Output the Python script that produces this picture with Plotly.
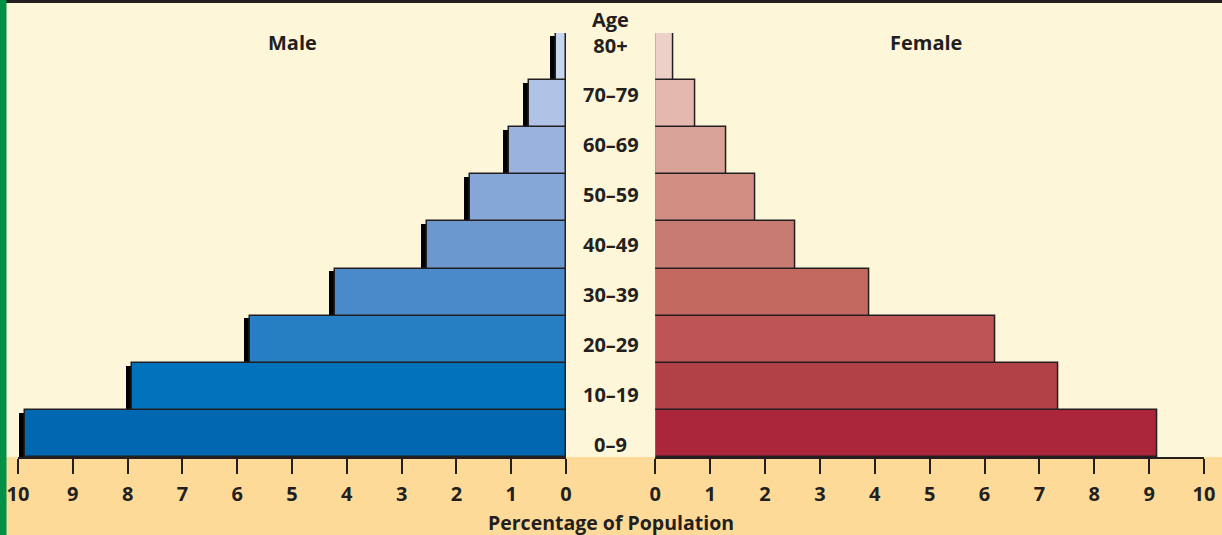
import plotly.graph_objects as go

age_groups = ["0–9", "10–19", "20–29", "30–39", "40–49", "50–59", "60–69", "70–79", "80+"]
male_pct = [9.87, 7.92, 5.77, 4.22, 2.53, 1.76, 1.04, 0.67, 0.18]
female_pct = [9.14, 7.34, 6.20, 3.90, 2.55, 1.82, 1.30, 0.73, 0.33]
x_ticks = [0, 1, 2, 3, 4, 5, 6, 7, 8, 9, 10]

male_colors = ["#0068B1", "#0073BC", "#267EC3", "#4B8AC8", "#6A98CF",
               "#84A7D8", "#99B3DE", "#AEC3E5", "#C7D6EF"]
female_colors = ["#AC263B", "#B24047", "#BC5553", "#C4695F", "#C87B73",
                 "#D28E83", "#D8A298", "#E4B8AE", "#EDD0C7"]

INK = "#231F20"
CREAM = "#FDF6D8"
ORANGE = "#FDDA97"
GREEN = "#009048"
FONT = "Open Sans"
FS = 20
SHADOW = 0.11

W, H = 1222, 535
def px(xp):
    return xp / W
def py(yp):
    return (H - yp) / H

pos = list(range(len(age_groups)))

fig = go.Figure()

# male shadow
fig.add_trace(go.Bar(
    y=pos, x=[v + SHADOW for v in male_pct], orientation="h",
    marker=dict(color="#000000", line=dict(width=0)),
    width=0.94, offset=-0.5, xaxis="x", yaxis="y",
    hoverinfo="skip", showlegend=False))
# male bars
fig.add_trace(go.Bar(
    y=pos, x=male_pct, orientation="h",
    marker=dict(color=male_colors, line=dict(color=INK, width=1.5)),
    width=1, xaxis="x", yaxis="y", name="Male", showlegend=False))
# female bars
fig.add_trace(go.Bar(
    y=pos, x=female_pct, orientation="h",
    marker=dict(color=female_colors, line=dict(color=INK, width=1.5)),
    width=1, xaxis="x2", yaxis="y2", name="Female", showlegend=False))

ydom = [py(457), py(33)]
axis_common = dict(
    tickvals=x_ticks, ticktext=[str(t) for t in x_ticks],
    showline=True, linecolor=INK, linewidth=2,
    ticks="outside", ticklen=15, tickwidth=1.5, tickcolor=INK,
    ticklabelstandoff=3,
    showgrid=False, zeroline=False, fixedrange=True,
    tickfont=dict(family=FONT, size=FS, color=INK, weight="bold"),
    automargin=False,
)

fig.update_layout(
    width=W, height=H,
    margin=dict(l=0, r=0, t=0, b=0),
    paper_bgcolor=ORANGE, plot_bgcolor="rgba(0,0,0,0)",
    barmode="overlay", bargap=0,
    xaxis=dict(domain=[px(18), px(566)], range=[10, 0], anchor="y", **axis_common),
    xaxis2=dict(domain=[px(655.3), px(1204)], range=[0, 10], anchor="y2", **axis_common),
    yaxis=dict(domain=ydom, range=[-0.5, 8.5], visible=False, fixedrange=True, anchor="x"),
    yaxis2=dict(domain=ydom, range=[-0.5, 8.5], visible=False, fixedrange=True, anchor="x2"),
    shapes=[
        dict(type="rect", xref="paper", yref="paper", x0=0, x1=1, y0=py(457), y1=1,
             fillcolor=CREAM, line=dict(width=0), layer="below"),
        dict(type="rect", xref="paper", yref="paper", x0=0, x1=1, y0=py(3), y1=1,
             fillcolor=INK, line=dict(width=0), layer="below"),
        dict(type="rect", xref="paper", yref="paper", x0=0, x1=px(6.5), y0=0, y1=1,
             fillcolor=GREEN, line=dict(width=0), layer="below"),
    ],
)

lab_font = dict(family=FONT, size=FS, color=INK, weight="bold")
annotations = []
last = len(age_groups) - 1
for i, lab in enumerate(age_groups):
    if i == last:
        annotations.append(dict(
            text="Age<br>" + lab, x=px(610.5), xref="paper", y=i, yref="y",
            yshift=24, yanchor="middle", showarrow=False, font=lab_font))
    else:
        annotations.append(dict(
            text=lab, x=px(610.5), xref="paper", y=i, yref="y",
            yshift=-11.5 + 2.9 * i, yanchor="middle", showarrow=False, font=lab_font))
annotations.append(dict(
    text="Male", x=5, xref="x", y=py(43), yref="paper", yanchor="middle",
    showarrow=False, font=lab_font))
annotations.append(dict(
    text="Female", x=4.93, xref="x2", y=py(43), yref="paper", yanchor="middle",
    showarrow=False, font=lab_font))
annotations.append(dict(
    text="Percentage of Population", x=px(611), xref="paper", y=py(522.5), yref="paper",
    yanchor="middle", showarrow=False, font=dict(family=FONT, size=19.5, color=INK, weight="bold")))
fig.update_layout(annotations=annotations)

fig.write_html(
    "out.html",
    config={"displayModeBar": False},
    post_script="document.body.style.margin='0';document.body.style.overflow='hidden';",
)
